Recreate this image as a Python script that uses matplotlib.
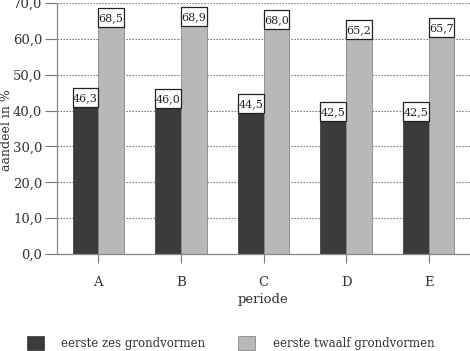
import matplotlib
matplotlib.use("Agg")
import matplotlib.pyplot as plt
from matplotlib.ticker import FixedLocator

categories = ["A", "B", "C", "D", "E"]
zes = [46.3, 46.0, 44.5, 42.5, 42.5]
twaalf = [68.5, 68.9, 68.0, 65.2, 65.7]
series_names = ["eerste zes grondvormen", "eerste twaalf grondvormen"]
yticks = [0, 10, 20, 30, 40, 50, 60, 70]
ytick_labels = ["0,0", "10,0", "20,0", "30,0", "40,0", "50,0", "60,0", "70,0"]

plt.rcParams['font.family'] = ['DejaVu Serif']
fig = plt.figure(figsize=(4.7, 3.51), dpi=100)
ax = fig.add_axes([57/470, 1-254/351, 1-57/470, (254-3)/351])

x = list(range(len(categories)))
w = 0.31
box_h = 5.3
dark = '#3b3b3b'
light = '#b8b8b8'
b1 = ax.bar([i - w/2 for i in x], zes, width=w, color=dark, edgecolor='#333333', linewidth=0.5, zorder=2)
b2 = ax.bar([i + w/2 for i in x], twaalf, width=w, color=light, edgecolor='#888888', linewidth=0.6, zorder=2)

for xs, vals in (([i - w/2 for i in x], zes), ([i + w/2 for i in x], twaalf)):
    ax.bar(xs, [box_h]*len(vals), bottom=[v - box_h for v in vals], width=w,
           color='white', edgecolor='#222222', linewidth=0.9, zorder=3)
    for xi, v in zip(xs, vals):
        ax.text(xi, v - box_h/2 - 0.2, f"{v:.1f}".replace('.', ','), ha='center', va='center',
                fontsize=8, color='#222222', zorder=4)

ax.set_xlim(-0.5, 4.5)
ax.set_ylim(0, 70)
ax.yaxis.set_major_locator(FixedLocator(yticks))
ax.set_yticklabels(ytick_labels, fontsize=9.5, color='#333333')
ax.set_xticks(x)
ax.set_xticklabels(categories, fontsize=9.5, color='#333333')
ax.tick_params(axis='y', length=8.6, width=0.8, color='#777777', pad=2)
ax.tick_params(axis='x', length=6.5, width=0.8, color='#777777', pad=9)
for s in ('top', 'right'):
    ax.spines[s].set_visible(False)
for s in ('left', 'bottom'):
    ax.spines[s].set_color('#888888')
    ax.spines[s].set_linewidth(0.9)
ax.yaxis.grid(True, linestyle=(0, (1.2, 1.5)), color='#666666', linewidth=0.8, zorder=1)
ax.set_axisbelow(True)

ax.set_xlabel("periode", fontsize=9.5, color='#333333', labelpad=3)
ax.set_ylabel("aandeel in %", fontsize=9, color='#333333')
ax.yaxis.set_label_coords(-0.107, 0.494)

fig.legend([b1, b2], series_names, loc='center left', bbox_to_anchor=(27/470, 1-343/351),
           ncol=2, frameon=False, borderpad=0, borderaxespad=0, handlelength=1.4,
           handleheight=1.4, handletextpad=1.5, columnspacing=2.8, fontsize=8.5,
           labelcolor='#333333')

fig.savefig("out.png", dpi=100)
